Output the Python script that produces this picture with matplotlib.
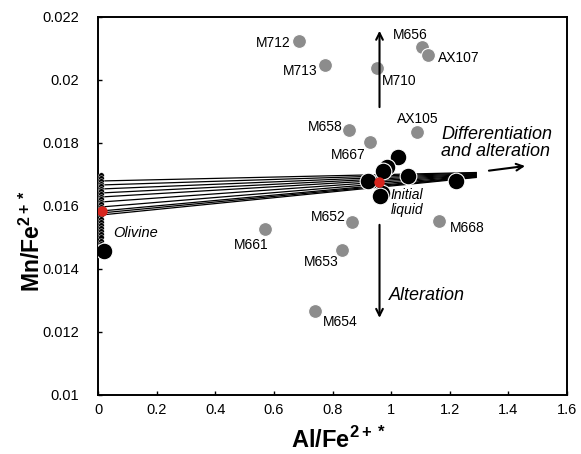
import matplotlib
matplotlib.use("Agg")
import matplotlib.pyplot as plt
from matplotlib.ticker import FuncFormatter

plt.rcParams['font.family'] = ['Liberation Sans', 'DejaVu Sans']
plt.rcParams['mathtext.fontset'] = 'custom'
plt.rcParams['mathtext.rm'] = 'Liberation Sans'
plt.rcParams['mathtext.bf'] = 'Liberation Sans:bold'

# Grey samples (Al/Fe2+*, Mn/Fe2+*)
sample_names = ["M712", "M713", "M710", "M656", "AX107", "M658", "AX105",
                "M667", "M652", "M661", "M653", "M668", "M654"]
sample_x = [0.686, 0.775, 0.952, 1.106, 1.126, 0.857, 1.089,
            0.928, 0.867, 0.570, 0.833, 1.164, 0.741]
sample_y = [0.02124, 0.02048, 0.02038, 0.02105, 0.02079, 0.01841, 0.01835,
            0.01803, 0.01549, 0.01527, 0.01460, 0.01552, 0.01267]
# label anchor positions and alignment
label_x = [0.655, 0.747, 0.969, 1.007, 1.160, 0.833, 1.020,
           0.911, 0.846, 0.580, 0.819, 1.201, 0.768]
label_y = [0.02117, 0.02029, 0.01997, 0.02143, 0.02070, 0.01851, 0.01876,
           0.01762, 0.01565, 0.01476, 0.01422, 0.01530, 0.01232]
label_ha = ["right", "right", "left", "left", "left", "right", "left",
            "right", "right", "right", "right", "left", "left"]

# Black circles (liquid compositions)
black_x = [0.020, 1.024, 0.986, 0.973, 1.058, 0.922, 0.969, 0.962, 1.222]
black_y = [0.01457, 0.01756, 0.01724, 0.01711, 0.01695, 0.01679, 0.01641, 0.01632, 0.01679]

# Red points: olivine and initial liquid
red_x = [0.014, 0.959]
red_y = [0.01584, 0.01676]

# Olivine column
olivine_x = 0.008
olivine_y = [0.01698, 0.01690, 0.01680, 0.01670, 0.01662, 0.01654, 0.01646,
             0.01638, 0.01630, 0.01622, 0.01614, 0.01606, 0.01598, 0.01590,
             0.01580, 0.01570, 0.01560, 0.01550, 0.01540, 0.01530, 0.01520,
             0.01510, 0.01500, 0.01490, 0.01480]

# Fractionation lines: start at olivine side, end at x = 1.29
fan_x0, fan_x1 = 0.01, 1.29
fan_y0 = [0.016794, 0.016667, 0.016540, 0.016413, 0.016286,
          0.016127, 0.015968, 0.015841, 0.015778, 0.015714]
fan_y1 = [0.017063, 0.017048, 0.017029, 0.017010, 0.016990,
          0.016975, 0.016956, 0.016937, 0.016921, 0.016905]

fig = plt.figure(figsize=(5.81, 4.54), dpi=100)
ax = fig.add_axes([0.169, 0.130, 0.807, 0.8326])

for y0, y1 in zip(fan_y0, fan_y1):
    ax.plot([fan_x0, fan_x1], [y0, y1], color="black", lw=0.9, zorder=2)

ax.plot([olivine_x] * len(olivine_y), olivine_y, "o", color="black",
        markersize=4, markeredgecolor="white", markeredgewidth=0.3, zorder=3)

ax.plot(sample_x, sample_y, "o", color="#8c8c8c", markersize=10,
        markeredgecolor="white", markeredgewidth=0.8, zorder=3)
ax.plot(black_x, black_y, "o", color="black", markersize=12,
        markeredgecolor="white", markeredgewidth=0.8, zorder=4)
ax.plot(red_x, red_y, "o", color="#d7261e", markersize=7.5,
        markeredgecolor="none", zorder=5)

for name, lx, ly, ha in zip(sample_names, label_x, label_y, label_ha):
    ax.text(lx, ly, name, ha=ha, va="center", fontsize=10, zorder=6)

arrow = dict(arrowstyle="->", color="black", lw=1.5, mutation_scale=12)
ax.annotate("", xy=(0.960, 0.02165), xytext=(0.960, 0.01905), arrowprops=arrow)
ax.annotate("", xy=(0.960, 0.01236), xytext=(0.960, 0.01549), arrowprops=arrow)
ax.annotate("", xy=(1.466, 0.01728), xytext=(1.324, 0.01711), arrowprops=arrow)

ax.text(1.171, 0.01800, "Differentiation\nand alteration", style="italic",
        fontsize=13, ha="left", va="center", linespacing=1.05)
ax.text(0.993, 0.01317, "Alteration", style="italic", fontsize=13,
        ha="left", va="center")
ax.text(1.054, 0.01610, "Initial\nliquid", style="italic", fontsize=10,
        ha="center", va="center", linespacing=1.1, zorder=6)
ax.text(0.050, 0.01514, "Olivine", style="italic", fontsize=10.5,
        ha="left", va="center")

ax.set_xlim(0, 1.6)
ax.set_ylim(0.01, 0.022)
ax.set_xticks([0, 0.2, 0.4, 0.6, 0.8, 1.0, 1.2, 1.4, 1.6])
ax.set_yticks([0.01, 0.012, 0.014, 0.016, 0.018, 0.02, 0.022])
ax.xaxis.set_major_formatter(FuncFormatter(lambda v, p: "%g" % round(v, 3)))
ax.yaxis.set_major_formatter(FuncFormatter(lambda v, p: "%g" % round(v, 4)))
ax.tick_params(direction="in", length=3, width=1, labelsize=10.5)
ax.tick_params(axis="x", pad=6)
ax.tick_params(axis="y", pad=14)

for s in ax.spines.values():
    s.set_linewidth(1.4)

ax.set_xlabel(r"Al/Fe$^{\mathbf{2+*}}$", fontsize=17, fontweight="bold")
ax.set_ylabel(r"Mn/Fe$^{\mathbf{2+*}}$", fontsize=16.5, fontweight="bold")
ax.xaxis.set_label_coords(0.512, -0.085)
ax.yaxis.set_label_coords(-0.113, 0.407)

fig.savefig("out.png", dpi=100)
